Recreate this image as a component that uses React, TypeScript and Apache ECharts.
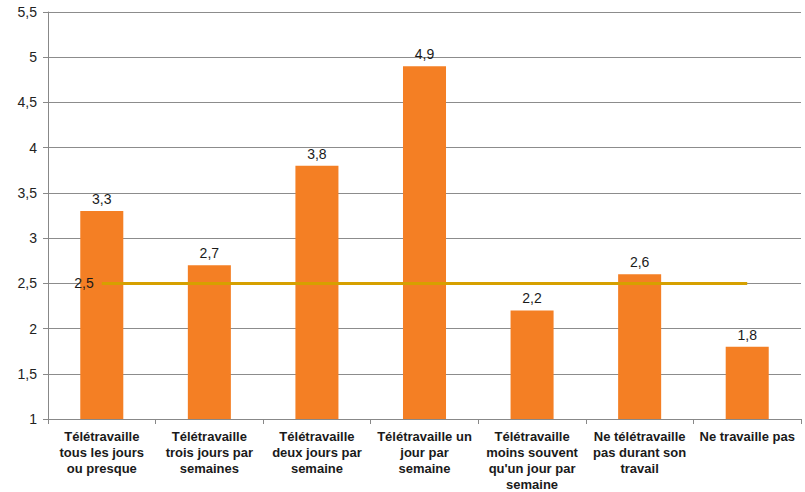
import React, { useEffect, useRef } from "react";
import * as echarts from "echarts";

const categories = [
  "Télétravaille\ntous les jours\nou presque",
  "Télétravaille\ntrois jours par\nsemaines",
  "Télétravaille\ndeux jours par\nsemaine",
  "Télétravaille un\njour par\nsemaine",
  "Télétravaille\nmoins souvent\nqu'un jour par\nsemaine",
  "Ne télétravaille\npas durant son\ntravail",
  "Ne travaille pas",
];
const values = [3.3, 2.7, 3.8, 4.9, 2.2, 2.6, 1.8];
const averageValue = 2.5;
const yMin = 1;
const yMax = 5.5;
const yInterval = 0.5;

const fmt = (v: number) => String(v).replace(".", ",");

export default function App() {
  const ref = useRef<HTMLDivElement>(null);
  useEffect(() => {
    if (!ref.current) return;
    const chart = echarts.init(ref.current, null, { renderer: "svg" });
    chart.setOption({
      animation: false,
      textStyle: { fontFamily: "Liberation Sans, Arial, sans-serif" },
      grid: { left: 48, right: 4, top: 12, bottom: 73, outerBoundsMode: "none", containLabel: false },
      xAxis: {
        type: "category",
        data: categories,
        axisLine: { lineStyle: { color: "#888888", width: 1 } },
        axisTick: { show: true, alignWithLabel: false, length: 5, lineStyle: { color: "#888888" } },
        axisLabel: {
          interval: 0,
          color: "#1a1a1a",
          fontWeight: "bold",
          fontSize: 13,
          lineHeight: 16,
          margin: 9,
        },
      },
      yAxis: {
        type: "value",
        min: yMin,
        max: yMax,
        interval: yInterval,
        axisLine: { show: true, lineStyle: { color: "#888888", width: 1 } },
        axisTick: { show: true, length: 5, lineStyle: { color: "#888888" } },
        splitLine: { show: true, lineStyle: { color: "#8c8c8c", width: 1 } },
        axisLabel: {
          color: "#222222",
          fontSize: 14,
          margin: 11,
          formatter: (v: number) => fmt(v),
        },
      },
      series: [
        {
          type: "bar",
          data: values,
          barWidth: "40%",
          itemStyle: { color: "#F47F24" },
          label: {
            show: true,
            position: "top",
            distance: 5,
            color: "#1a1a1a",
            fontSize: 14,
            formatter: (p: any) => fmt(p.value),
          },
          markLine: {
            symbol: "none",
            silent: true,
            lineStyle: { color: "#D6A000", width: 3, type: "solid" },
            label: {
              show: true,
              position: "start",
              distance: 8,
              color: "#1a1a1a",
              fontSize: 14,
              formatter: () => fmt(averageValue),
            },
            data: [
              [
                { coord: [0, averageValue] },
                { coord: [categories.length - 1, averageValue] },
              ],
            ],
          },
        },
      ],
    });
    return () => chart.dispose();
  }, []);
  return (
    <div
      ref={ref}
      style={{ position: "fixed", left: 0, top: 0, width: 805, height: 492, background: "#fff" }}
    />
  );
}
